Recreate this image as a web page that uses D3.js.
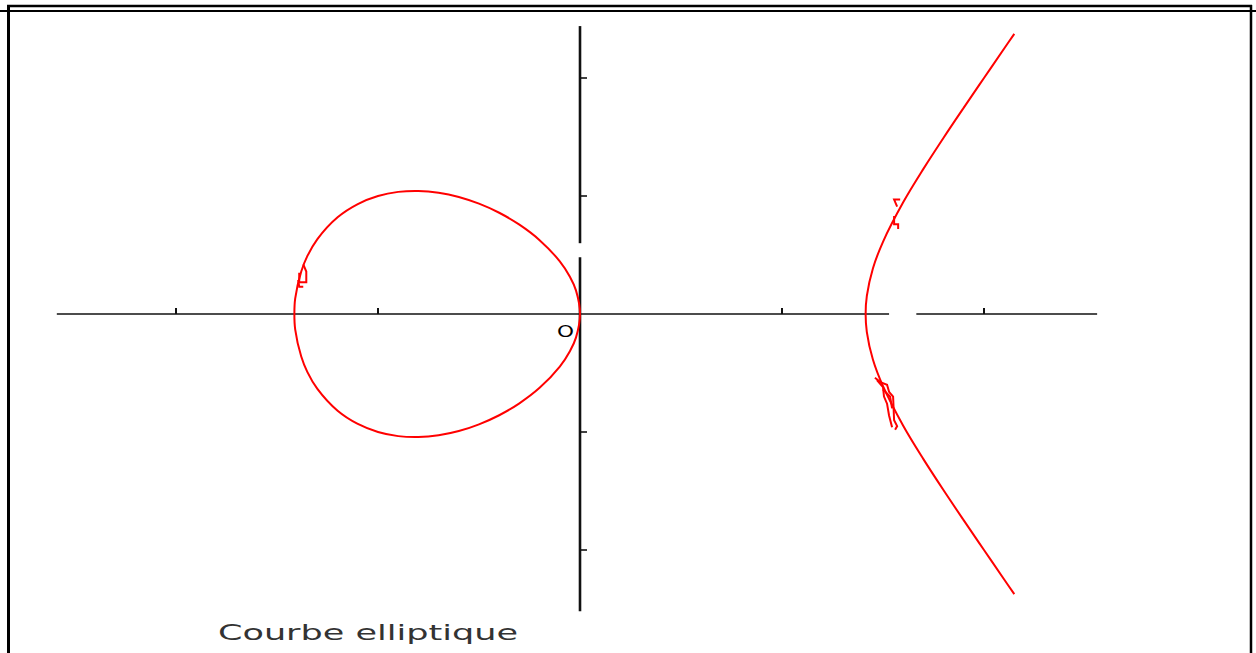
<!DOCTYPE html>
<html lang="fr">
<head>
<meta charset="UTF-8">
<title>Courbe elliptique</title>
<script src="https://d3js.org/d3.v7.min.js"></script>
<style>
  body { margin: 0; background: #fff; }
  .frame { stroke: #000; fill: none; }
  .axis-line { stroke: #111; fill: none; }
  .curve { stroke: #ff0000; stroke-width: 2; fill: none; }
  .titre { font-family: "DejaVu Sans", sans-serif; font-size: 21px; fill: #333; }
</style>
</head>
<body>
<svg width="1256" height="653"></svg>
<script>
// oval (x < 0), going round clockwise from the left end
const ovalX = [-1.414, -1.41, -1.38, -1.35, -1.3, -1.2, -1.1, -1.0, -0.9, -0.8, -0.7, -0.6, -0.5, -0.4, -0.3, -0.2, -0.1, -0.05, -0.02, 0,
               -0.02, -0.05, -0.1, -0.2, -0.3, -0.4, -0.5, -0.6, -0.7, -0.8, -0.9, -1.0, -1.1, -1.2, -1.3, -1.35, -1.38, -1.41];
const ovalY = [0, 0.13, 0.36, 0.49, 0.635, 0.82, 0.932, 1.0, 1.035, 1.043, 1.028, 0.992, 0.935, 0.858, 0.757, 0.626, 0.446, 0.316, 0.2, 0,
               -0.2, -0.316, -0.446, -0.626, -0.757, -0.858, -0.935, -0.992, -1.028, -1.043, -1.035, -1.0, -0.932, -0.82, -0.635, -0.49, -0.36, -0.13];

// right branch, from the top end down to the bottom end
const branchX = [2.15, 2.1, 2.0, 1.9, 1.8, 1.7, 1.6, 1.5, 1.45, 1.42, 1.414, 1.42, 1.45, 1.5, 1.6, 1.7, 1.8, 1.9, 2.0, 2.1, 2.15];
const branchY = [2.374, 2.25, 2.0, 1.749, 1.494, 1.23, 0.947, 0.612, 0.386, 0.153, 0, -0.153, -0.386, -0.612, -0.947, -1.23, -1.494, -1.749, -2.0, -2.25, -2.374];

// little plotting glitches along the curve
const glitches = [
  [[-1.39, 0.35], [-1.39, 0.27], [-1.355, 0.27], [-1.355, 0.36], [-1.37, 0.42]],
  [[-1.395, 0.29], [-1.39, 0.23], [-1.37, 0.23]],
  [[1.555, 0.83], [1.555, 0.76], [1.575, 0.76], [1.575, 0.72]],
  [[1.585, 0.97], [1.555, 0.97], [1.57, 0.91]],
  [[1.46, -0.54], [1.49, -0.58], [1.52, -0.6], [1.53, -0.66], [1.55, -0.7], [1.555, -0.9], [1.57, -0.95], [1.56, -0.98]],
  [[1.47, -0.56], [1.5, -0.62], [1.505, -0.7], [1.52, -0.76], [1.53, -0.86], [1.545, -0.96]],
  [[1.5, -0.64], [1.535, -0.7], [1.545, -0.8]]
];

// axes (the drawn segments, with the two small breaks) and their ticks
const xAxisSegs = [[-2.59, 1.53], [1.665, 2.56]];
const yAxisSegs = [[-2.52, 0.48], [0.6, 2.44]];
const xTicks = [-2, -1, 1, 2];
const yTicks = [-2, -1, 1, 2];
const originLabel = "O";
const titre = "Courbe elliptique";

const svg = d3.select("svg");

// frame
svg.append("line").attr("class", "frame").attr("x1", 7).attr("x2", 1252).attr("y1", 6).attr("y2", 6).attr("stroke-width", 2.5);
svg.append("line").attr("class", "frame").attr("x1", 0).attr("x2", 1256).attr("y1", 11).attr("y2", 11).attr("stroke-width", 2);
svg.append("line").attr("class", "frame").attr("x1", 8.5).attr("x2", 8.5).attr("y1", 5).attr("y2", 653).attr("stroke-width", 3);
svg.append("line").attr("class", "frame").attr("x1", 1251).attr("x2", 1251).attr("y1", 5).attr("y2", 653).attr("stroke-width", 2.5);

const x = d3.scaleLinear().domain([-1, 1]).range([580 - 202, 580 + 202]);
const y = d3.scaleLinear().domain([-1, 1]).range([314 + 118, 314 - 118]);

// x axis
svg.selectAll(".xseg").data(xAxisSegs).enter().append("line")
  .attr("class", "axis-line").attr("stroke-width", 1.6)
  .attr("x1", d => x(d[0])).attr("x2", d => x(d[1]))
  .attr("y1", y(0)).attr("y2", y(0));
svg.selectAll(".xtick").data(xTicks).enter().append("line")
  .attr("class", "axis-line").attr("stroke-width", 2)
  .attr("x1", d => x(d)).attr("x2", d => x(d))
  .attr("y1", y(0)).attr("y2", y(0) - 6);

// y axis
svg.selectAll(".yseg").data(yAxisSegs).enter().append("line")
  .attr("class", "axis-line").attr("stroke-width", 2.6)
  .attr("x1", x(0)).attr("x2", x(0))
  .attr("y1", d => y(d[0])).attr("y2", d => y(d[1]));
svg.selectAll(".ytick").data(yTicks).enter().append("line")
  .attr("class", "axis-line").attr("stroke-width", 1.6)
  .attr("x1", x(0)).attr("x2", x(0) + 7)
  .attr("y1", d => y(d)).attr("y2", d => y(d));

// the curve
const ovalPts = ovalX.map((v, i) => [v, ovalY[i]]);
const branchPts = branchX.map((v, i) => [v, branchY[i]]);
const line = d3.line().x(d => x(d[0])).y(d => y(d[1])).curve(d3.curveCatmullRom);
const loop = d3.line().x(d => x(d[0])).y(d => y(d[1])).curve(d3.curveCatmullRomClosed);
const step = d3.line().x(d => x(d[0])).y(d => y(d[1]));

svg.append("path").attr("class", "curve").attr("d", loop(ovalPts));
svg.append("path").attr("class", "curve").attr("d", line(branchPts));
svg.selectAll(".glitch").data(glitches).enter().append("path")
  .attr("class", "curve").attr("stroke-width", 1.6)
  .attr("d", d => step(d));

// labels
svg.append("text")
  .attr("x", x(0) - 6).attr("y", y(0) + 23)
  .attr("text-anchor", "end")
  .style("font-family", "DejaVu Sans, sans-serif").style("font-size", "15px")
  .attr("textLength", 17).attr("lengthAdjust", "spacingAndGlyphs")
  .text(originLabel);

svg.append("text").attr("class", "titre")
  .attr("x", 218).attr("y", 640)
  .attr("textLength", 300).attr("lengthAdjust", "spacingAndGlyphs")
  .text(titre);
</script>
</body>
</html>
